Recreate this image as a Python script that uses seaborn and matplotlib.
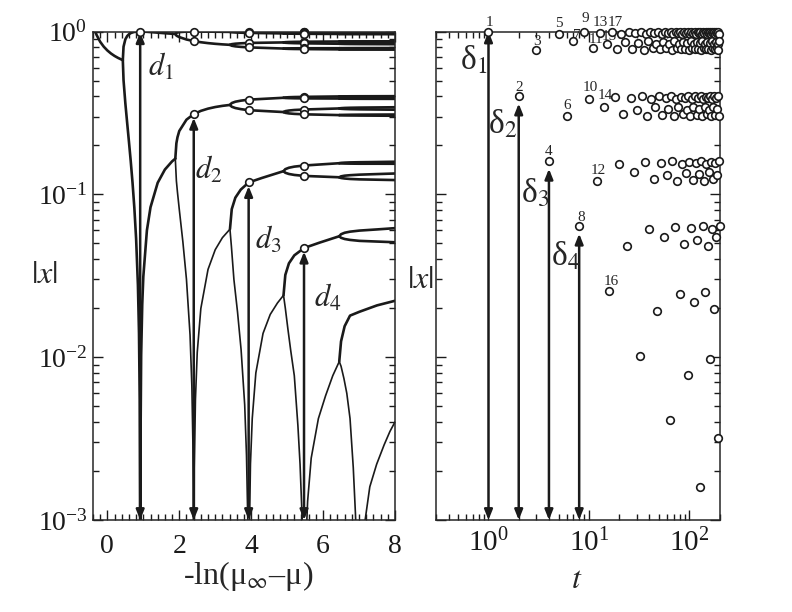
import numpy as np
import pandas as pd
import matplotlib
matplotlib.use("Agg")
import matplotlib.pyplot as plt
import seaborn as sns
from matplotlib.ticker import MultipleLocator, LogLocator, NullFormatter

# ---------------- left panel: branches of |x| vs -ln(mu_inf - mu) ----------------
# period 1
s_p1 = [-0.337, -0.3, -0.2, -0.1, 0.0, 0.1, 0.2, 0.3, 0.43]
x_p1 = [1.0, 0.953, 0.865, 0.807, 0.765, 0.733, 0.708, 0.688, 0.667]

# period 2
s_p2 = [0.43, 0.45, 0.5, 0.55, 0.6, 0.65, 0.7, 0.75, 0.8, 0.85, 0.88, 0.9, 0.91,
        0.913, 0.92, 0.94, 0.97, 1.0, 1.1, 1.2, 1.4, 1.6, 1.8, 1.89]
x_p2 = [
    [0.667, 0.807, 0.895, 0.937, 0.962, 0.978, 0.987, 0.994, 0.997, 0.9993, 0.9998, 1.0, 1.0,
     1.0, 1.0, 0.9999, 0.9996, 0.999, 0.996, 0.992, 0.984, 0.976, 0.969, 0.966],
    [0.667, 0.5025, 0.363, 0.276, 0.211, 0.160, 0.118, 0.083, 0.0533, 0.0277, 0.0140, 0.0055, 0.00137,
     1e-5, 0.0026, 0.0103, 0.0211, 0.0312, 0.0601, 0.0833, 0.1178, 0.142, 0.1594, 0.1657],
]

# period 4
s_p4 = [1.89, 1.92, 1.95, 2.0, 2.2, 2.4, 2.6, 2.8, 3.0, 3.2, 3.41]
x_p4 = [
    [0.966, 0.980, 0.986, 0.9917, 0.9988, 1.0, 0.9995, 0.9984, 0.9972, 0.9960, 0.9949],
    [0.1657, 0.206, 0.224, 0.2449, 0.2874, 0.3107, 0.3255, 0.3360, 0.3437, 0.3495, 0.3541],
    [0.966, 0.945, 0.936, 0.9241, 0.8934, 0.8735, 0.8594, 0.8487, 0.8404, 0.8338, 0.8284],
]
s_p4_dip = [1.89, 1.92, 1.95, 2.0, 2.1, 2.2, 2.3, 2.35, 2.38, 2.39, 2.403, 2.42, 2.45,
            2.5, 2.6, 2.8, 3.0, 3.2, 3.41]
x_p4_dip = [0.1657, 0.121, 0.103, 0.081, 0.0512, 0.0301, 0.0137, 0.0067, 0.0029, 0.0016, 1e-5,
            0.0021, 0.0055, 0.0107, 0.0199, 0.0346, 0.0457, 0.0542, 0.0611]

# period 8
s_p8 = [3.41, 3.46, 3.56, 3.71, 3.93, 4.3, 4.9]
x_p8 = [
    [.9949, .9967, .9980, .9990, 1.0, .9997, .9992],
    [.3541, .3637, .3706, .3761, .3816, .3855, .3918],
    [.8284, .8181, .8107, .8048, .7989, .7940, .7860],
    [.0611, .0811, .0954, .1069, .1183, .1261, .1388],
    [.9949, .9899, .9864, .9835, .9807, .9779, .9732],
    [.3541, .3452, .3389, .3338, .3287, .3255, .3202],
    [.8284, .8362, .8418, .8463, .8508, .8532, .8571],
]
s_p8_dip = [3.41, 3.45, 3.52, 3.62, 3.72, 3.82, 3.87, 3.91, 3.93, 3.95, 3.98, 4.03, 4.13,
            4.33, 4.53, 4.73, 4.9]
x_p8_dip = [.0611, .048, .030, .019, .0111, .0051, .0025, .0009, 1e-5, .0008, .0022, .0042,
            .0080, .0140, .0183, .0215, .0240]

# period 16
s_p16 = [4.9, 4.95, 5.05, 5.2, 5.47, 5.9, 6.45]
x_p16 = [
    [.9992, .9995, .9997, .9998, 1.0, 1.0, .9999],
    [.3918, .3936, .3949, .3959, .3969, .3980, .3993],
    [.7860, .7839, .7823, .7811, .7799, .7786, .7769],
    [.1388, .1428, .1457, .1480, .1503, .1525, .1553],
    [.9732, .9715, .9703, .9694, .9684, .9674, .9662],
    [.3202, .3167, .3141, .3121, .3101, .3086, .3067],
    [.8571, .8601, .8622, .8639, .8656, .8668, .8683],
    [.0240, .0320, .0377, .0422, .0468, .0505, .0553],
    [.9992, .9984, .9978, .9974, .9969, .9964, .9957],
    [.3918, .3906, .3898, .3891, .3884, .3881, .3877],
    [.7860, .7872, .7880, .7886, .7893, .7894, .7896],
    [.1388, .1357, .1334, .1316, .1298, .1287, .1273],
    [.9732, .9744, .9752, .9758, .9765, .9769, .9773],
    [.3202, .3243, .3272, .3296, .3319, .3341, .3369],
    [.8571, .8533, .8505, .8483, .8461, .8439, .8412],
]
s_p16_dip = [4.9, 4.95, 5.02, 5.1, 5.2, 5.3, 5.36, 5.42, 5.47, 5.49, 5.52, 5.57, 5.67,
             5.87, 6.07, 6.27, 6.45]
x_p16_dip = [.0240, .020, .015, .011, .0077, .0038, .0022, .0010, 1e-5, .0003, .0007, .0013,
             .0024, .0042, .0058, .0077, .0094]

# period 32
s_p32 = [6.45, 6.5, 6.6, 6.75, 7.01, 7.5, 8.0]
x_p32 = [
    [.9999, .9999, 1.0, 1.0, 1.0, 1.0, 1.0],
    [.3993, .3997, .3999, .4001, .4003, .4005, .4008],
    [.7769, .7765, .7762, .7759, .7757, .7754, .7750],
    [.1553, .1561, .1566, .1571, .1575, .1580, .1586],
    [.9662, .9659, .9657, .9655, .9653, .9651, .9648],
    [.3067, .3060, .3055, .3051, .3047, .3043, .3038],
    [.8683, .8689, .8693, .8697, .8700, .8703, .8707],
    [.0553, .0569, .0581, .0590, .0599, .0609, .0620],
    [.9957, .9955, .9953, .9951, .9950, .9948, .9946],
    [.3877, .3872, .3868, .3865, .3862, .3860, .3858],
    [.7896, .7901, .7905, .7908, .7911, .7913, .7915],
    [.1273, .1260, .1251, .1243, .1236, .1230, .1224],
    [.9773, .9778, .9781, .9783, .9786, .9788, .9790],
    [.3369, .3383, .3394, .3402, .3410, .3418, .3427],
    [.8412, .8398, .8388, .8380, .8372, .8364, .8355],
    [.0094, .0125, .0155, .0180, .0190, .0208, .0222],
    [.9999, .9998, .9997, .9996, .9995, .9994, .9993],
    [.3993, .3992, .3991, .3990, .3989, .3989, .3989],
    [.7769, .7770, .7771, .7771, .7772, .7772, .7771],
    [.1553, .1549, .1546, .1544, .1542, .1542, .1541],
    [.9662, .9664, .9665, .9666, .9667, .9667, .9667],
    [.3067, .3074, .3078, .3082, .3086, .3089, .3092],
    [.8683, .8677, .8673, .8670, .8667, .8664, .8661],
    [.0553, .0541, .0532, .0525, .0518, .0513, .0508],
    [.9957, .9959, .9960, .9961, .9962, .9963, .9964],
    [.3877, .3884, .3890, .3894, .3898, .3902, .3907],
    [.7896, .7888, .7882, .7878, .7873, .7867, .7861],
    [.1273, .1290, .1302, .1311, .1321, .1332, .1343],
    [.9773, .9767, .9763, .9759, .9756, .9752, .9747],
    [.3369, .3354, .3344, .3335, .3327, .3319, .3310],
    [.8412, .8426, .8435, .8443, .8451, .8458, .8466],
]
s_p32_dip = [6.45, 6.5, 6.58, 6.66, 6.75, 6.84, 6.9, 6.96, 7.01, 7.08, 7.17, 7.3, 7.49,
             7.7, 7.86, 8.0]
x_p32_dip = [.0094, .0088, .0074, .0060, .0042, .0021, .0011, .0005, 1e-5, .0004, .0010,
             .0016, .0022, .0029, .0035, .0040]

# superstable points (open circles) and the distances d_n
ss_s = [0.913, 2.403, 3.93, 5.47]
ss_x1 = [1.0]
ss_x2 = [1.0, 0.8735, 0.3107]
ss_x3 = [1.0, 0.9807, 0.8508, 0.7989, 0.3816, 0.3287, 0.1183]
ss_x4 = [1.0, 0.9969, 0.9765, 0.9684, 0.8656, 0.8461, 0.7893, 0.7799,
         0.3969, 0.3884, 0.3319, 0.3101, 0.1503, 0.1298, 0.0468]
d_vals = [1.0, 0.3107, 0.1183, 0.0468]
d_names = ["$d_1$", "$d_2$", "$d_3$", "$d_4$"]

# ---------------- right panel: orbit |x_t| at mu_inf ----------------
abs_x = [
    1.0, 0.4012, 0.7745, 0.1595, 0.9644, 0.3031, 0.8713, 0.0637, 0.9943, 0.3853,
    0.7920, 0.1211, 0.9795, 0.3442, 0.8340, 0.0254, 0.9991, 0.3986, 0.7774, 0.1533,
    0.9671, 0.3104, 0.8650, 0.0483, 0.9967, 0.3920, 0.7847, 0.1372, 0.9736, 0.3282,
    0.8491, 0.0102, 0.9999, 0.4007, 0.7750, 0.1585, 0.9648, 0.3043, 0.8703, 0.0612,
    0.9947, 0.3865, 0.7907, 0.1239, 0.9785, 0.3415, 0.8366, 0.0193, 0.9995, 0.3997,
    0.7762, 0.1559, 0.9659, 0.3073, 0.8677, 0.0548, 0.9958, 0.3894, 0.7876, 0.1309,
    0.9760, 0.3347, 0.8431, 0.0041, 1.0, 0.4011, 0.7746, 0.1593, 0.9644, 0.3033,
    0.8711, 0.0633, 0.9944, 0.3855, 0.7918, 0.1215, 0.9793, 0.3438, 0.8344, 0.0245,
    0.9992, 0.3988, 0.7772, 0.1537, 0.9669, 0.3099, 0.8655, 0.0495, 0.9966, 0.3916,
    0.7852, 0.1362, 0.9740, 0.3293, 0.8481, 0.0078, 0.9999, 0.4009, 0.7748, 0.1589,
    0.9646, 0.3038, 0.8707, 0.0623, 0.9946, 0.3860, 0.7913, 0.1227, 0.9789, 0.3426,
    0.8355, 0.0219, 0.9993, 0.3993, 0.7766, 0.1549, 0.9664, 0.3085, 0.8666, 0.0523,
    0.9962, 0.3904, 0.7864, 0.1334, 0.9750, 0.3321, 0.8455, 0.0016, 1.0, 0.4011,
    0.7745, 0.1595, 0.9644, 0.3031, 0.8713, 0.0637, 0.9943, 0.3853, 0.7920, 0.1211,
    0.9794, 0.3442, 0.8340, 0.0253, 0.9991, 0.3986, 0.7773, 0.1533, 0.9671, 0.3103,
    0.8651, 0.0485, 0.9967, 0.3919, 0.7848, 0.1371, 0.9737, 0.3283, 0.8489, 0.0098,
    0.9999, 0.4008, 0.7749, 0.1586, 0.9648, 0.3042, 0.8704, 0.0614, 0.9947, 0.3864,
    0.7908, 0.1237, 0.9785, 0.3417, 0.8364, 0.0197, 0.9995, 0.3996, 0.7762, 0.1558,
    0.9660, 0.3075, 0.8675, 0.0544, 0.9958, 0.3895, 0.7874, 0.1313, 0.9758, 0.3343,
    0.8434, 0.0032, 1.0, 0.4011, 0.7746, 0.1594, 0.9644, 0.3032, 0.8712, 0.0635,
]
t_vals = np.arange(1, len(abs_x) + 1)
label_t = list(range(1, 18))
delta_t = [1, 2, 4, 8]
delta_vals = [1.0, 0.4012, 0.1595, 0.0637]

# ---------------- layout only ----------------
lab_dx = [0.7, 0, 0.5, 0, 0, 0.5, 2.5, 1.2, 0.7, 0.7, 2.0, 1.2, -0.2, 1.2, 1.9, 1.2, 2.2]
lab_dy = [6.5, 6.5, 6.0, 7.2, 7.5, 7.2, 4.5, 6.5, 9.6, 8.0, 6.0, 7.2, 7.2, 8.0, 6.0, 6.7, 6.3]
d_pos = [(1.49, 0.605), (2.83, 0.141), (4.47, 0.0524), (6.14, 0.0231)]
delta_pos = [(0.72, 0.668), (1.37, 0.27), (2.92, 0.102), (5.8, 0.0418)]

sns.set_theme(style="ticks")
plt.rcParams["font.family"] = ["Liberation Serif", "DejaVu Serif"]
plt.rcParams["mathtext.fontset"] = "stix"
plt.rcParams["axes.linewidth"] = 1.1


def to_long(s, rows, tag):
    out = []
    for k, xs in enumerate(rows):
        out.append(pd.DataFrame({"s": s, "x": xs, "branch": f"{tag}{k}"}))
    return out


main_parts = (to_long(s_p1, [x_p1], "a") + to_long(s_p2, x_p2, "b") + to_long(s_p4, x_p4, "c")
              + to_long(s_p8, x_p8, "d") + to_long(s_p16, x_p16, "e") + to_long(s_p32, x_p32, "f"))
main_df = pd.concat(main_parts, ignore_index=True)
dip_df = pd.concat(to_long(s_p4_dip, [x_p4_dip], "g") + to_long(s_p8_dip, [x_p8_dip], "h")
                   + to_long(s_p16_dip, [x_p16_dip], "i") + to_long(s_p32_dip, [x_p32_dip], "j"),
                   ignore_index=True)

ss_df = pd.DataFrame({
    "s": [ss_s[0]] * len(ss_x1) + [ss_s[1]] * len(ss_x2) + [ss_s[2]] * len(ss_x3) + [ss_s[3]] * len(ss_x4),
    "x": ss_x1 + ss_x2 + ss_x3 + ss_x4,
})

fig = plt.figure(figsize=(7.92, 6.12), dpi=100)
ax1 = fig.add_axes([0.1174, 0.1503, 0.3813, 0.7982])
ax2 = fig.add_axes([0.5505, 0.1503, 0.3580, 0.7982])

arrow_kw = dict(arrowstyle="<|-|>,head_length=0.6,head_width=0.24", color="k", lw=1.8,
                shrinkA=0, shrinkB=0, mutation_scale=10)

# ---- left ----
sns.lineplot(data=main_df, x="s", y="x", units="branch", estimator=None, sort=False,
             color="k", lw=1.9, ax=ax1, legend=False)
sns.lineplot(data=dip_df, x="s", y="x", units="branch", estimator=None, sort=False,
             color="k", lw=1.2, ax=ax1, legend=False)
ax1.set_yscale("log")
ax1.set_xlim(-0.4, 8)
ax1.set_ylim(1e-3, 1)
for s0, v in zip(ss_s, d_vals):
    top = v * 0.99 if v >= 1 else v * 0.95
    ax1.annotate("", xy=(s0, top), xytext=(s0, 1e-3), arrowprops=arrow_kw)
sns.scatterplot(data=ss_df, x="s", y="x", ax=ax1, marker="o", s=30, color="white",
                edgecolor="k", linewidth=1.2, zorder=5, clip_on=False, legend=False)
for (px, py), name in zip(d_pos, d_names):
    ax1.text(px, py, name, ha="center", va="center", fontsize=22)

ax1.xaxis.set_major_locator(MultipleLocator(2))
ax1.xaxis.set_minor_locator(MultipleLocator(0.2))
ax1.yaxis.set_major_locator(LogLocator(base=10))
ax1.yaxis.set_minor_locator(LogLocator(base=10, subs=np.arange(2, 10)))
ax1.yaxis.set_minor_formatter(NullFormatter())
ax1.tick_params(which="both", direction="in", top=True, right=True, width=1.0, colors="k")
ax1.tick_params(which="major", length=7)
ax1.tick_params(which="minor", length=4)
ax1.tick_params(axis="x", which="major", labelsize=20, pad=10)
ax1.tick_params(axis="y", which="major", labelsize=20, pad=4)
ax1.set_xlabel("-ln(μ$_\\infty$–μ)", fontsize=23)
ax1.xaxis.set_label_coords(0.513, -0.08)
ax1.set_ylabel("$|x|$", fontsize=23, rotation=0, va="center", ha="center")
ax1.yaxis.set_label_coords(-0.16, 0.5)

# ---- right ----
for tt, v in zip(delta_t, delta_vals):
    top = v if v >= 1 else v * 0.9
    ax2.annotate("", xy=(tt, top), xytext=(tt, 1e-3), arrowprops=arrow_kw)
sns.scatterplot(x=t_vals, y=abs_x, ax=ax2, marker="o", s=30, color="white",
                edgecolor="k", linewidth=1.2, zorder=5, clip_on=False, legend=False)
for i, tt in enumerate(label_t):
    ax2.annotate(str(tt), xy=(tt, abs_x[tt - 1]), xytext=(lab_dx[i], lab_dy[i]),
                 textcoords="offset points", ha="center", va="center", fontsize=11,
                 annotation_clip=False)
for k, (px, py) in enumerate(delta_pos):
    ax2.text(px, py, "δ$_%d$" % (k + 1), ha="center", va="center", fontsize=24)

ax2.set_xscale("log")
ax2.set_yscale("log")
ax2.set_xlim(0.3, 200)
ax2.set_ylim(1e-3, 1)
ax2.xaxis.set_major_locator(LogLocator(base=10))
ax2.xaxis.set_minor_locator(LogLocator(base=10, subs=np.arange(2, 10)))
ax2.xaxis.set_minor_formatter(NullFormatter())
ax2.yaxis.set_major_locator(LogLocator(base=10))
ax2.yaxis.set_minor_locator(LogLocator(base=10, subs=np.arange(2, 10)))
ax2.yaxis.set_minor_formatter(NullFormatter())
ax2.tick_params(which="both", direction="in", top=True, right=True, width=1.0, colors="k")
ax2.tick_params(which="major", length=7)
ax2.tick_params(which="minor", length=4)
ax2.tick_params(axis="x", which="major", labelsize=21, pad=6)
ax2.tick_params(axis="y", labelleft=False)
ax2.set_xlabel("$t$", fontsize=23)
ax2.xaxis.set_label_coords(0.496, -0.095)
ax2.set_ylabel("$|x|$", fontsize=23, rotation=0, va="center", ha="center")
ax2.yaxis.set_label_coords(-0.056, 0.49)

fig.savefig("out.png", dpi=100)
